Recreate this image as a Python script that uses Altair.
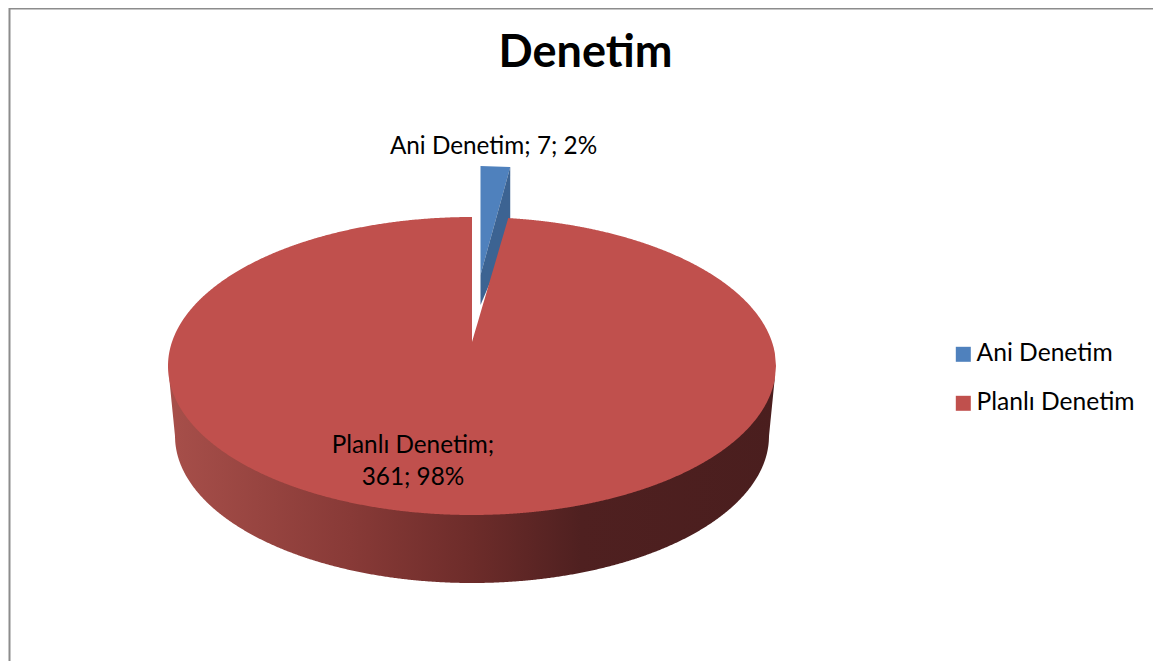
import math
import altair as alt
import pandas as pd

# ---- chart values
TITLE = "Denetim"
categories = ["Ani Denetim", "Planlı Denetim"]
values = [7, 361]
percents = [2, 98]
top_colors = ["#4f81bd", "#c0504d"]
blue_side_color = "#3c6392"
side_stops = [(0.0, "#a74f4a"), (0.3, "#883a37"), (0.5, "#6d2c2a"), (0.68, "#4f2020"), (1.0, "#4a1e1e")]
FONT = "Lato"

# ---- layout of the drawing (scale set-up only)
W, H = 1145, 653
CX, CY, RX, RY = 464, 358, 304, 149
X_DOM = [-CX / RX, (W - CX) / RX]
Y_DOM = [(CY - H) / RY, CY / RY]
APEX = 0.161          # perspective position of the pie's centre on the top face
BOTTOM_DROP = 70 / RY  # depth of the pie
BOTTOM_RX = 297 / RX
BOTTOM_RY = 147 / RY

theta = 2 * math.pi * values[0] / sum(values)
su, cv = math.sin(theta), math.cos(theta)
x_enc = alt.X("px:Q", scale=alt.Scale(domain=X_DOM), axis=None)
y_enc = alt.Y("py:Q", scale=alt.Scale(domain=Y_DOM), axis=None)
y2_enc = alt.Y2("py2:Q")
N = 360


def ell(u):
    return math.sqrt(max(0.0, 1 - u * u))


def rows(pts, **extra):
    return [dict(px=a, py=b, py2=c, **extra) for a, b, c in pts]


# top face of the large slice
red = []
for k in range(N + 1):
    u = -math.cos(math.pi / 2 * k / N)
    red.append((u, ell(u), -ell(u)))
red.append((0.0, APEX, -1.0))
red += [(su * k / 20, APEX + (cv - APEX) * k / 20, -ell(su * k / 20)) for k in range(1, 21)]
for k in range(1, N + 1):
    u = su + (1 - su) * (1 - math.cos(math.pi / 2 * k / N))
    red.append((min(u, 1.0), ell(u), -ell(u)))
red_df = pd.DataFrame(rows(red, cat=categories[1]))

# outer wall of the large slice (its upper edge tucks under the top face)
wall = []
for k in range(2 * N + 1):
    u = -math.cos(math.pi * k / (2 * N))
    upper = -ell(u) + min(0.02, 2 * ell(u))
    if abs(u) <= BOTTOM_RX:
        lower = -BOTTOM_DROP - BOTTOM_RY * ell(u / BOTTOM_RX)
    else:
        lower = -BOTTOM_DROP * (1 - abs(u)) / (1 - BOTTOM_RX)
    wall.append((u, upper, lower))
wall_df = pd.DataFrame(rows(wall))

# the pulled-out small slice
LIFT = 0.342
ul, ur = 0.028, 0.028 + 0.82 * su
blue_df = pd.DataFrame(rows([(ul, 1 + LIFT, APEX + 0.45), (ur, cv + LIFT, cv + LIFT)], cat=categories[0]))
blue_side_df = pd.DataFrame(rows([(ul, APEX + 0.45, APEX + 0.248), (ur, cv + LIFT, 0.88)]))

color = alt.Color(
    "cat:N",
    scale=alt.Scale(domain=categories, range=top_colors),
    legend=alt.Legend(
        title=None, orient="none", legendX=943, legendY=334, symbolType="square", symbolSize=225,
        symbolStrokeWidth=0, labelFont=FONT, labelFontSize=24.6, labelColor="#000000", labelOffset=1,
        rowPadding=24, labelLimit=300,
    ),
)

wall_layer = alt.Chart(wall_df).mark_area(
    orient="vertical",
    color=alt.Gradient(gradient="linear", x1=0, x2=1, y1=0, y2=0,
                       stops=[alt.GradientStop(offset=o, color=c) for o, c in side_stops])
).encode(x=x_enc, y=y_enc, y2=y2_enc)
blue_layer = alt.Chart(blue_df).mark_area(orient="vertical").encode(x=x_enc, y=y_enc, y2=y2_enc, color=color)
blue_side_layer = alt.Chart(blue_side_df).mark_area(orient="vertical", color=blue_side_color).encode(x=x_enc, y=y_enc, y2=y2_enc)
red_layer = alt.Chart(red_df).mark_area(orient="vertical").encode(x=x_enc, y=y_enc, y2=y2_enc, color=color)

label_blue = alt.Chart(pd.DataFrame({"t": [f"{categories[0]}; {values[0]}; {percents[0]}%"]})).mark_text(
    font=FONT, fontSize=24.3, color="#000000", align="center", baseline="middle"
).encode(text="t:N", x=alt.value(485.5), y=alt.value(139))
label_red = alt.Chart(pd.DataFrame({"t": [f"{categories[1]};\n{values[1]}; {percents[1]}%"]})).mark_text(
    font=FONT, fontSize=24.3, color="#000000", align="center", baseline="middle", lineBreak="\n", lineHeight=32
).encode(text="t:N", x=alt.value(405), y=alt.value(438))

border_left = alt.Chart(pd.DataFrame({"a": [0]})).mark_rule(color="#8c8c8c", strokeWidth=2).encode(
    x=alt.value(1.5), y=alt.value(0), y2=alt.value(H))
border_top = alt.Chart(pd.DataFrame({"a": [0]})).mark_rule(color="#8c8c8c", strokeWidth=2).encode(
    y=alt.value(0.5), x=alt.value(1), x2=alt.value(W))

chart = (
    alt.layer(border_left, border_top, wall_layer, blue_layer, blue_side_layer, red_layer, label_blue, label_red)
    .properties(
        width=W, height=H,
        autosize=alt.AutoSizeParams(type="none"),
        padding=0,
        background="#ffffff",
        title=alt.TitleParams(TITLE, font=FONT, fontSize=45, fontWeight="bold", color="#000000",
                              anchor="middle", frame="group", offset=-69, dx=5),
    )
    .configure_view(stroke=None)
)
chart.save("out.html", embed_options={"renderer": "svg", "actions": False})
